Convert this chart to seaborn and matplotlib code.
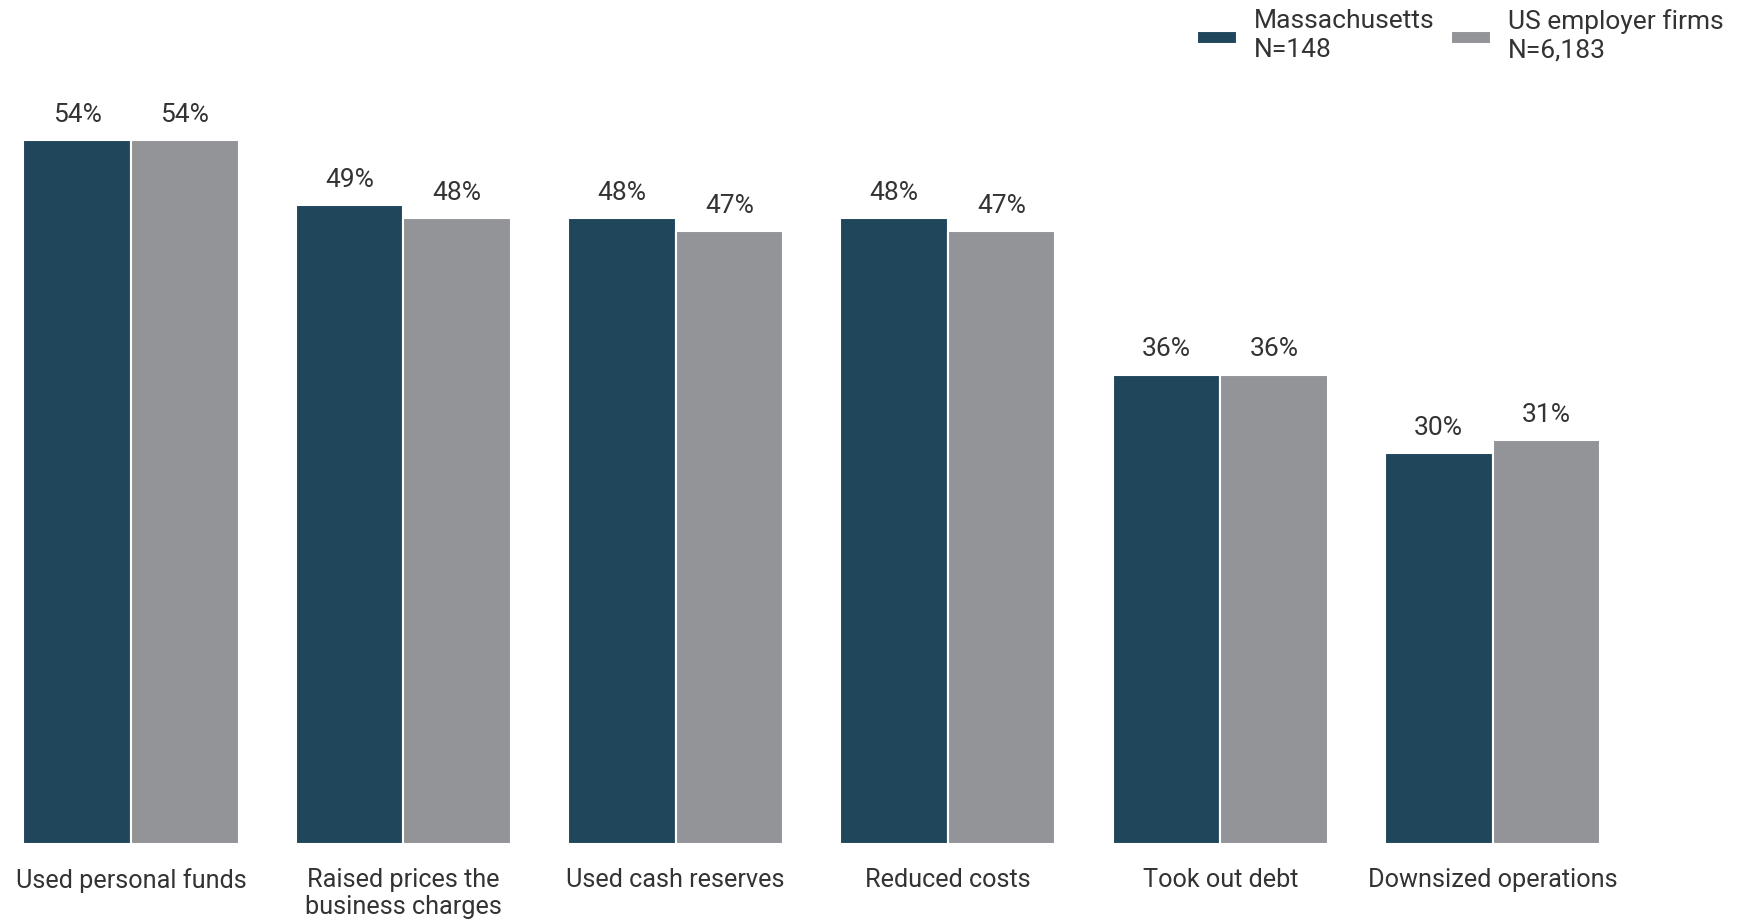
import pandas as pd
import matplotlib.pyplot as plt
import seaborn as sns
from matplotlib.patches import Rectangle
from matplotlib.legend_handler import HandlerPatch

categories = ["Used personal funds", "Raised prices the\nbusiness charges", "Used cash reserves",
              "Reduced costs", "Took out debt", "Downsized operations"]
massachusetts = [54, 49, 48, 48, 36, 30]
us_firms = [54, 48, 47, 47, 36, 31]
series_names = ["Massachusetts\nN=148", "US employer firms\nN=6,183"]
colors = ["#20465b", "#939498"]

df = pd.DataFrame({
    "category": categories * 2,
    "value": massachusetts + us_firms,
    "group": [series_names[0]] * len(categories) + [series_names[1]] * len(categories),
})

sns.set_style("white")
plt.rcParams['font.family'] = ['Roboto', 'DejaVu Sans']
text_color = "#333333"

fig = plt.figure(figsize=(17.37, 9.21), dpi=100)
ax = fig.add_axes([8 / 1737, 77 / 921, 1729 / 1737, 744 / 921])

sns.barplot(data=df, x="category", y="value", hue="group", palette=colors,
            width=0.79, edgecolor="white", linewidth=1.5, saturation=1, ax=ax)

for container in ax.containers:
    ax.bar_label(container, labels=[f"{v:.0f}%" for v in container.datavalues],
                 padding=9.5, fontsize=19, color=text_color)

ax.set_xlim((8 - 131) / 272.3, (1737 - 131) / 272.3)
ax.set_ylim(0, 744 / 13.04)
ax.set_xlabel("")
ax.set_ylabel("")
ax.set_yticks([])
ax.tick_params(axis="x", length=0, pad=17, labelsize=18.2, labelcolor=text_color)
sns.despine(ax=ax, left=True, bottom=True)


def low_patch(legend, orig_handle, xdescent, ydescent, width, height, fontsize):
    # legend swatch sits a bit below the middle of the two-line label
    return Rectangle((-xdescent, -ydescent - 1.5), width, height)


handles, labels = ax.get_legend_handles_labels()
ax.get_legend().remove()
leg = fig.legend(handles, labels, ncol=2, frameon=False, loc="upper right",
                 bbox_to_anchor=(1.0, 1.005), fontsize=19, handlelength=1.5, handleheight=0.42,
                 handletextpad=0.65, columnspacing=0.65, labelspacing=0.2,
                 labelcolor=text_color, borderaxespad=0.1,
                 handler_map={Rectangle: HandlerPatch(patch_func=low_patch)})
for t in leg.get_texts():
    t.set_linespacing(1.25)

fig.savefig("out.png", dpi=100)
